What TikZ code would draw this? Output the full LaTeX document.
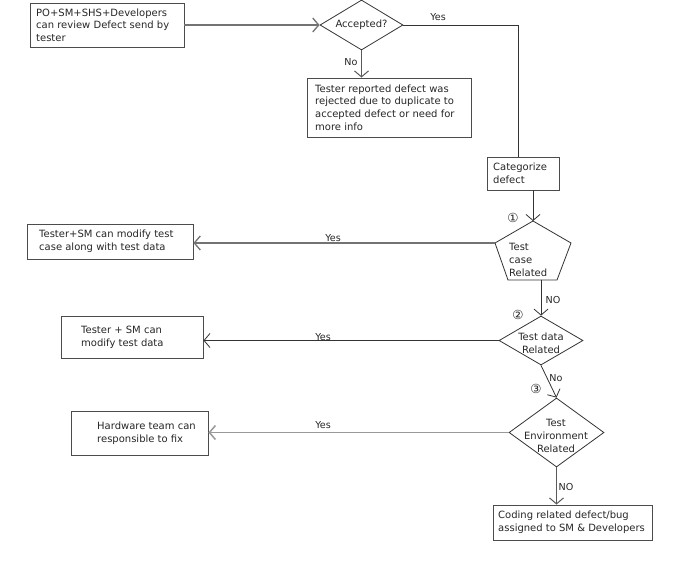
\documentclass[tikz,border=0pt]{standalone}
\usepackage{fontspec}
\setmainfont{DejaVu Sans}
\usetikzlibrary{arrows.meta,shapes.geometric}
\tikzset{
  box/.style={draw=black!70, line width=0.9pt, rectangle, inner sep=0pt},
  bt/.style={anchor=west, align=left, inner sep=0pt, font=\fontsize{10}{12.7}\selectfont, text=black!85},
  dia/.style={draw=black!80, line width=0.8pt, diamond, inner sep=0pt},
  txt/.style={font=\fontsize{10}{12.7}\selectfont, text=black!85, inner sep=0pt},
  lbl/.style={font=\fontsize{9.6}{11}\selectfont, text=black!85, inner sep=0pt},
  num/.style={font=\fontsize{12.5}{13}\selectfont, text=black!85, inner sep=0pt},
  arr/.style={-{Straight Barb[length=6pt,width=14pt]}},
  dk/.style={draw=black!80, line width=0.8pt},
  gr/.style={draw=black!55, line width=1.3pt},
  lg/.style={draw=black!40, line width=1.5pt},
  md/.style={draw=black!65, line width=1pt}
}
\begin{document}
\begin{tikzpicture}[x=1pt,y=-1pt]
\useasboundingbox (0,0) rectangle (691,573);
% boxes
\node[box, minimum width=154pt, minimum height=44pt] (A) at (107,25) {};
\node[bt] (At) at (36,25) {PO+SM+SHS+Developers\\can review Defect send by\\tester};
\node[box, minimum width=164pt, minimum height=59pt] (B) at (389,107.5) {};
\node[bt] (Bt) at (315,107.5) {Tester reported defect was\\rejected due to duplicate to\\accepted defect or need for\\more info};
\node[box, minimum width=72pt, minimum height=33pt] (cat) at (523,173.5) {};
\node[bt] (catt) at (493,173.5) {Categorize\\defect};
\node[box, minimum width=166pt, minimum height=35pt] (C) at (110,241.5) {};
\node[bt] (Ct) at (39,241.5) {Tester+SM can modify test\\case along with test data};
\node[box, minimum width=142pt, minimum height=42pt] (D) at (132,337) {};
\node[bt] (Dt) at (81,337) {Tester + SM can\\modify test data};
\node[box, minimum width=137pt, minimum height=44pt] (E) at (139.5,433) {};
\node[bt] (Et) at (97,433) {Hardware team can\\responsible to fix};
\node[box, minimum width=159pt, minimum height=35pt] (F) at (572.5,522.5) {};
\node[bt] (Ft) at (498,522.5) {Coding related defect/bug\\assigned to SM \& Developers};
% diamonds
\node[dia, minimum width=83pt, minimum height=50pt] (acc) at (361.5,25) {};
\node[txt] (acct) at (acc) {Accepted?};
\node[dia, minimum width=84pt, minimum height=49pt] (d2) at (541,340.5) {};
\node[txt, align=center] (d2t) at (541,343) {Test data\\Related};
\node[dia, minimum width=95pt, minimum height=69pt] (d3) at (556.5,432.5) {};
\node[txt, align=center] (d3t) at (556,436) {Test\\Environment\\Related};
% pentagon
\coordinate (p1) at (533,221);
\coordinate (p2) at (571,243);
\coordinate (p3) at (557,280);
\coordinate (p4) at (508,280);
\coordinate (p5) at (495,243);
\coordinate (pb) at (541,280);
\draw[dk] (p1) -- (p2) -- (p3) -- (p4) -- (p5) -- cycle;
\node[txt, anchor=west, align=left] (pt) at (509,260) {Test\\case\\Related};
% connectors
\coordinate (yc) at (518,25);
\draw[gr, arr] (A.east) -- (acc.west);
\draw[dk] (acc.east) -- (yc) -- (yc |- cat.north);
\draw[md, arr] (acc.south) -- (acc.south |- B.north);
\draw[dk, arr] (cat.south -| p1) -- (p1);
\draw[gr, arr] (p5) -- (p5 -| C.east);
\draw[dk, arr] (pb) -- (d2.north);
\draw[dk, arr] (d2.west) -- (d2.west -| D.east);
\draw[dk, arr] (d2.south) -- (d3.north);
\draw[lg, arr] (d3.west) -- (d3.west -| E.east);
\draw[md, arr] (d3.south) -- (d3.south |- F.north);
% labels
\node[lbl] (l1) at (438,17) {Yes};
\node[lbl] (l2) at (351,62) {No};
\node[num] (c1) at (513,218) {①};
\node[lbl] (l3) at (333,238) {Yes};
\node[lbl] (l4) at (553,300) {NO};
\node[num] (c2) at (518,315) {②};
\node[lbl] (l5) at (323,337) {Yes};
\node[lbl] (l6) at (556,378) {No};
\node[num] (c3) at (536,389) {③};
\node[lbl] (l7) at (323,425) {Yes};
\node[lbl] (l8) at (566,487) {NO};
\end{tikzpicture}
\end{document}
